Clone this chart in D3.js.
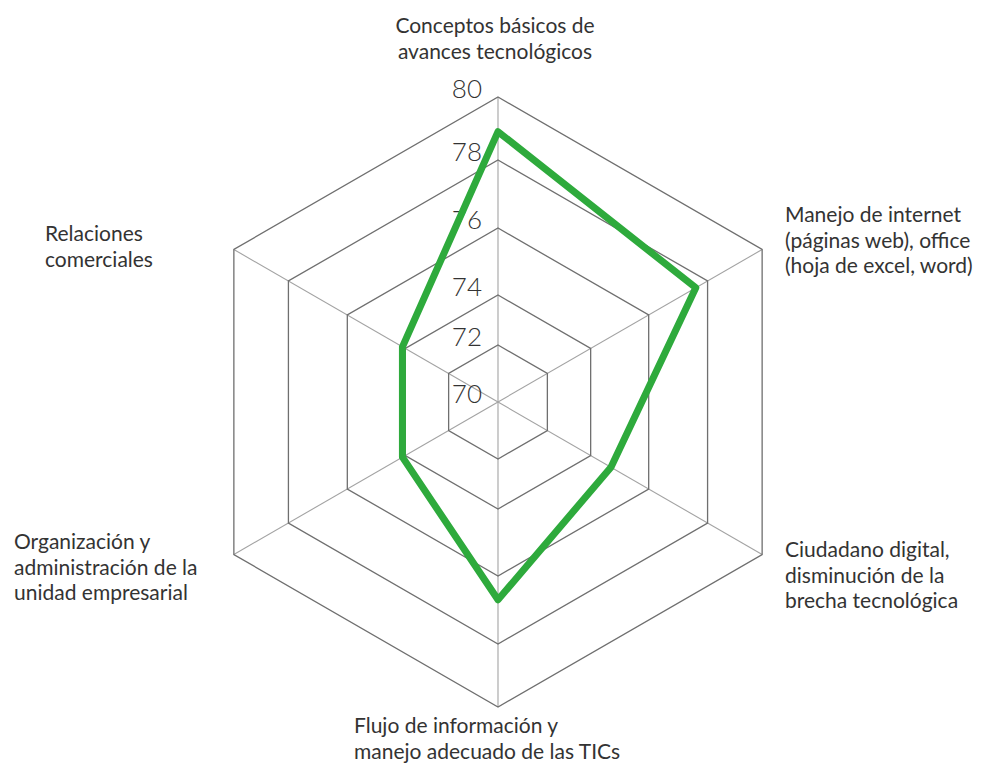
<!DOCTYPE html>
<html>
<head>
<meta charset="utf-8">
<script src="https://cdn.jsdelivr.net/npm/d3@7"></script>
<style>
  html, body { margin: 0; padding: 0; background: #fff; }
  svg { display: block; }
  text { font-family: Lato, "Open Sans", sans-serif; fill: #333; }
</style>
</head>
<body>
<svg id="chart" width="982" height="767"></svg>
<script>
// ---- data ----
const categories = [
  ["Conceptos básicos de", "avances tecnológicos"],
  ["Manejo de internet", "(páginas web), office", "(hoja de excel, word)"],
  ["Ciudadano digital,", "disminución de la", "brecha tecnológica"],
  ["Flujo de información y", "manejo adecuado de las TICs"],
  ["Organización y", "administración de la", "unidad empresarial"],
  ["Relaciones", "comerciales"]
];
const values = [78.9, 77.6, 74.7, 76.7, 74.1, 74.1];
const tickValues = [70, 72, 74, 76, 78, 80];
const tickLabels = ["70", "72", "74", "76", "78", "80"];

// ---- layout ----
const svg = d3.select("#chart");
const cx = 498, cy = 402;
// radial scale (rings in the source are not evenly spaced)
const r = d3.scaleLinear()
  .domain(tickValues)
  .range([0, 57, 107, 174, 242, 305]);

const n = categories.length;
const angle = d3.scaleLinear().domain([0, n]).range([0, 2 * Math.PI]);
const pt = (i, v) => {
  const a = angle(i);
  return [cx + r(v) * Math.sin(a), cy - r(v) * Math.cos(a)];
};

const g = svg.append("g");

// spokes
g.selectAll("line.spoke")
  .data(d3.range(n))
  .join("line")
  .attr("class", "spoke")
  .attr("x1", cx).attr("y1", cy)
  .attr("x2", i => pt(i, tickValues[tickValues.length - 1])[0])
  .attr("y2", i => pt(i, tickValues[tickValues.length - 1])[1])
  .attr("stroke", "#a3a3a3")
  .attr("stroke-width", 1.1);

// rings
const ringLine = d3.line().curve(d3.curveLinearClosed);
g.selectAll("path.ring")
  .data(tickValues.slice(1))
  .join("path")
  .attr("class", "ring")
  .attr("d", t => ringLine(d3.range(n).map(i => pt(i, t))))
  .attr("fill", "none")
  .attr("stroke", "#6f6f6f")
  .attr("stroke-width", 1.3);

// tick labels
g.selectAll("text.tick")
  .data(tickValues)
  .join("text")
  .attr("class", "tick")
  .attr("x", cx - 16)
  .attr("y", t => cy - r(t) + 1)
  .attr("text-anchor", "end")
  .attr("font-size", 26)
  .attr("font-weight", 300)
  .text((t, i) => tickLabels[i]);

// data polygon
g.append("path")
  .attr("d", ringLine(values.map((v, i) => pt(i, v))))
  .attr("fill", "none")
  .attr("stroke", "#2eaa3c")
  .attr("stroke-width", 7)
  .attr("stroke-linejoin", "round");

// category labels
const labelPos = [
  { x: 495, y: 33, anchor: "middle" },
  { x: 785, y: 222, anchor: "start" },
  { x: 785, y: 557, anchor: "start" },
  { x: 354, y: 733, anchor: "start" },
  { x: 14, y: 549, anchor: "start" },
  { x: 45, y: 241, anchor: "start" }
];
const lineH = 25.5;
categories.forEach((lines, i) => {
  const t = svg.append("text")
    .attr("text-anchor", labelPos[i].anchor)
    .attr("font-size", 21);
  lines.forEach((s, k) => {
    t.append("tspan")
      .attr("x", labelPos[i].x)
      .attr("y", labelPos[i].y + k * lineH)
      .text(s);
  });
});
</script>
</body>
</html>
